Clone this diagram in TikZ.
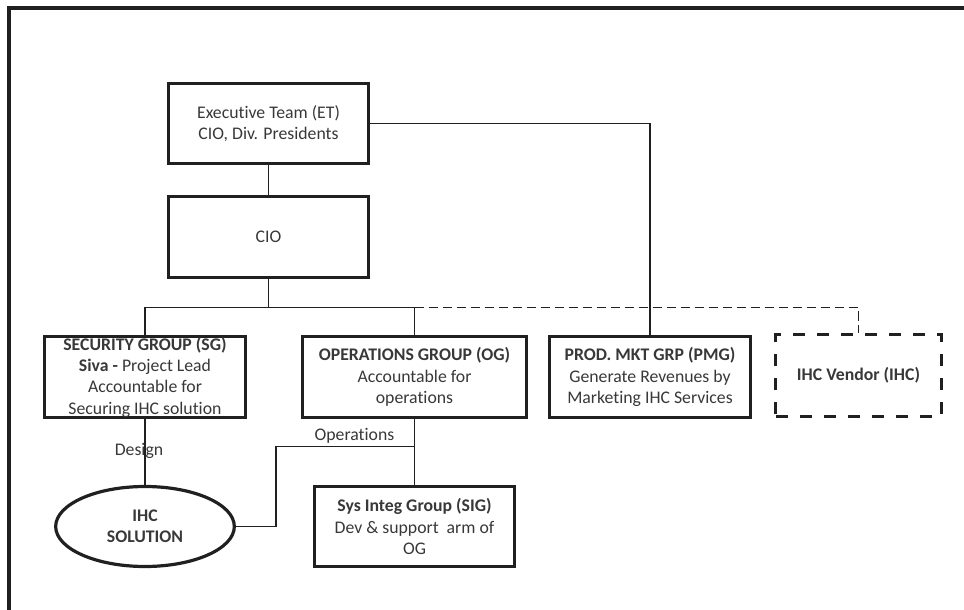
\documentclass[tikz,border=0pt]{standalone}
\usepackage{fontspec}
\setmainfont{Carlito}[Ligatures=NoCommon]
\usetikzlibrary{shapes.geometric,calc}
\definecolor{ink}{HTML}{202020}
\definecolor{txt}{HTML}{383838}
\begin{document}
\begin{tikzpicture}[x=0.75pt,y=-0.75pt,
  box/.style={draw=ink,line width=2.4pt,rectangle,inner sep=0pt,align=center,text=txt,
    font=\fontsize{13.3}{16}\selectfont},
  dbox/.style={box,dash pattern=on 9pt off 9pt},
  ell/.style={box,ellipse},
  conn/.style={draw=ink,line width=1.1pt},
  lbl/.style={text=txt,inner sep=0pt,font=\fontsize{13.3}{16}\selectfont}]
\useasboundingbox (0,0) rectangle (964,610);
\draw[ink,line width=3pt] (8.5,610) -- (8.5,8.5) -- (964,8.5);

\node[box,minimum width=150pt,minimum height=60pt] (ET) at (268.5,123.5) {Executive Team (ET)\\CIO, Div. Presidents};
\node[box,minimum width=150pt,minimum height=61pt] (CIO) at (268.5,237) {CIO};
\node[box,minimum width=151pt,minimum height=61pt] (SG) at (145,377) {\textbf{SECURITY GROUP (SG)}\\\textbf{Siva -} Project Lead\\Accountable for\\Securing IHC solution};
\node[box,minimum width=168pt,minimum height=61pt] (OG) at (414.5,377) {\textbf{OPERATIONS GROUP (OG)}\\Accountable for\\operations};
\node[box,minimum width=151pt,minimum height=61pt] (PMG) at (650,377) {\textbf{PROD. MKT GRP (PMG)}\\Generate Revenues by\\Marketing IHC Services};
\node[dbox,minimum width=124pt,minimum height=61.5pt] (IHC) at (858.5,375.5) {\textbf{IHC Vendor (IHC)}};
\node[ell,minimum width=134pt,minimum height=60pt] (SOL) at (145,526.5) {\textbf{IHC}\\\textbf{SOLUTION}};
\node[box,minimum width=150pt,minimum height=60pt] (SIG) at (414.5,526.5) {\textbf{Sys Integ Group (SIG)}\\Dev \& support\ \ arm of\\OG};

\coordinate (bus) at ($(CIO.south)+(0,28)$);
\coordinate (opj) at ($(OG.south)+(0,27)$);
\coordinate (opk) at ($(SOL.east)+(40,0)$);

\draw[conn] (ET.south) -- (CIO.north);
\draw[conn] (CIO.south) -- (bus);
\draw[conn] (SG.north) |- (bus) -| (OG.north);
\draw[conn,dash pattern=on 7pt off 3.5pt] (OG.north |- bus) -| (IHC.north);
\draw[conn] (ET.east) -| (PMG.north);
\draw[conn] (SG.south) -- (SOL.north);
\draw[conn] (OG.south) -- (SIG.north);
\draw[conn] (SOL.east) -- (opk) |- (opj);

\node[lbl] (design) at (139,451) {Design};
\node[lbl] (ops) at (354.5,436) {Operations};
\end{tikzpicture}
\end{document}
